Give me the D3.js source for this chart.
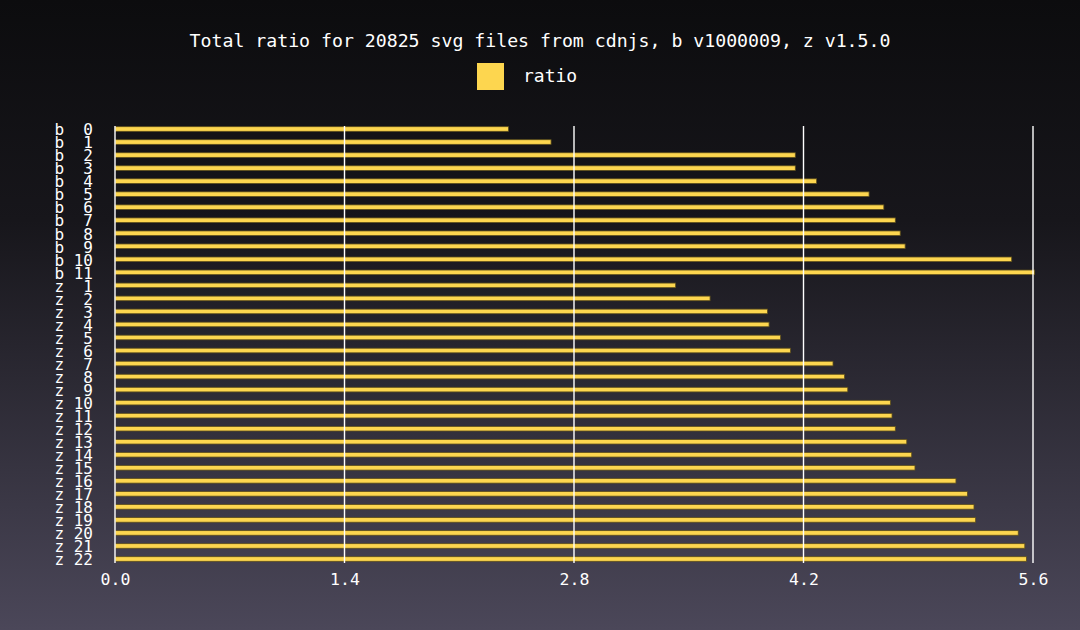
<!DOCTYPE html>
<html><head><meta charset="utf-8">
<script src="https://cdn.jsdelivr.net/npm/d3@7"></script>
<style>html,body{margin:0;padding:0;background:#000;}svg{display:block;}</style>
</head><body>
<script>
const title = "Total ratio for 20825 svg files from cdnjs, b v1000009, z v1.5.0";
const seriesName = "ratio";
const categories = ["b  0","b  1","b  2","b  3","b  4","b  5","b  6","b  7","b  8","b  9","b 10","b 11",
  "z  1","z  2","z  3","z  4","z  5","z  6","z  7","z  8","z  9","z 10","z 11","z 12","z 13","z 14","z 15","z 16","z 17","z 18","z 19","z 20","z 21","z 22"];
const ratios = [2.40,2.66,4.15,4.15,4.28,4.60,4.69,4.76,4.79,4.82,5.47,5.61,
  3.42,3.63,3.98,3.99,4.06,4.12,4.38,4.45,4.47,4.73,4.74,4.76,4.83,4.86,4.88,5.13,5.20,5.24,5.25,5.51,5.55,5.56];
const xTicks = [0,1.4,2.8,4.2,5.6];

const W = 1080, H = 630;
const svg = d3.select("body").append("svg").attr("width", W).attr("height", H);
const defs = svg.append("defs");
const g = defs.append("linearGradient").attr("id","bg").attr("x1",0).attr("y1",0).attr("x2",0).attr("y2",1);
g.append("stop").attr("offset","0%").attr("stop-color","#0c0c0e");
g.append("stop").attr("offset","35%").attr("stop-color","#17161b");
g.append("stop").attr("offset","100%").attr("stop-color","#4b4759");
svg.append("rect").attr("width",W).attr("height",H).attr("fill","url(#bg)");

const font = "'DejaVu Sans Mono', 'Liberation Mono', monospace";
const x = d3.scaleLinear().domain([0,5.6]).range([115,1033]);
const y = d3.scalePoint().domain(categories).range([129,559]);
const barH = 4.6;

// title
svg.append("text").attr("x",540).attr("y",47).attr("text-anchor","middle")
  .attr("fill","#ffffff").style("font-family",font).style("font-size","18.2px").text(title);
// legend
svg.append("rect").attr("x",477).attr("y",63).attr("width",27).attr("height",27).attr("fill","#fdd64f");
svg.append("text").attr("x",523).attr("y",82).attr("fill","#ffffff").style("font-family",font)
  .style("font-size","18px").text(seriesName);

// bars
svg.append("g").selectAll("rect").data(categories).join("rect")
  .attr("x", x(0)).attr("y", d => y(d) - barH/2)
  .attr("width", (d,i) => x(ratios[i]) - x(0)).attr("height", barH)
  .attr("fill","#fdd64f").attr("stroke","#5e4f1c").attr("stroke-width",0.8);

// gridlines (on top)
svg.append("g").selectAll("line").data(xTicks).join("line")
  .attr("x1", d => x(d)).attr("x2", d => x(d)).attr("y1",126).attr("y2",563)
  .attr("stroke","#ffffff").attr("stroke-width",1.4);

// x axis labels
const xa = svg.append("g").attr("transform","translate(0,563)")
  .call(d3.axisBottom(x).tickValues(xTicks).tickFormat(d3.format(".1f")).tickSize(0).tickPadding(10));
xa.select(".domain").remove();
xa.selectAll("text").attr("fill","#ffffff").style("font-family",font).style("font-size","16.5px");

// y axis labels
const ya = svg.append("g").attr("transform","translate(93,0)")
  .call(d3.axisLeft(y).tickSize(0).tickPadding(0));
ya.select(".domain").remove();
ya.selectAll("text").attr("fill","#ffffff").style("font-family",font).style("font-size","16px")
  .attr("xml:space","preserve").style("white-space","pre").attr("dy","0.36em");
</script>
</body></html>
